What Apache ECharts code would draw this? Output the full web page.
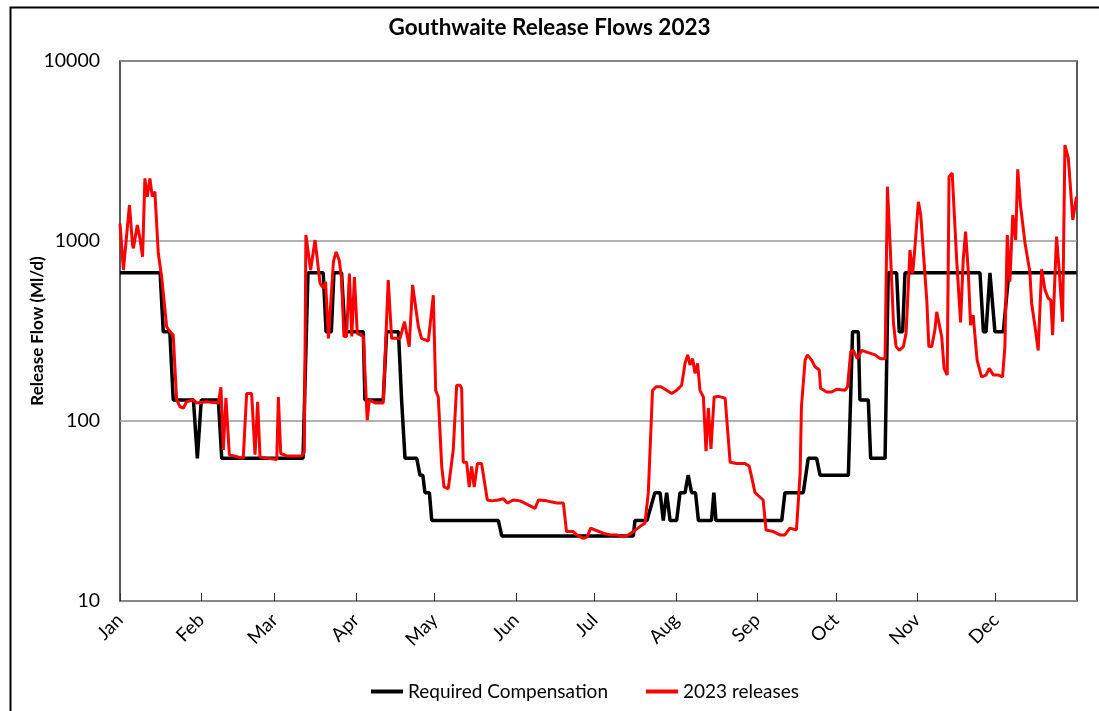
<!DOCTYPE html>
<html>
<head>
<meta charset="utf-8">
<script src="https://cdn.jsdelivr.net/npm/echarts@6/dist/echarts.min.js"></script>
<style>html,body{margin:0;padding:0;background:#fff}#c{width:1099px;height:711px}</style>
</head>
<body>
<div id="c"></div>
<script>
// Day-of-year ticks (0 = 1 Jan 2023) and month labels
const monthTicks = [0,31,59,90,120,151,181,212,243,273,304,334];
const monthLabels = ['Jan','Feb','Mar','Apr','May','Jun','Jul','Aug','Sep','Oct','Nov','Dec'];
const yTicks = [10, 100, 1000, 10000];

// Required Compensation [day, Ml/d]
const compensation = [
[0,666],[15.3,666],[16.5,313],[19,313],[20.3,131],[28,131],[29.5,62],[31,131],[37.5,131],[38.8,62],
[69.8,62],[71.7,666],[77.5,666],[78.6,313],[80.6,313],[81.6,666],[84.5,666],[85.8,313],[92.8,313],[93.4,131],
[100.4,131],[101.7,313],[106.2,313],[107.4,131],[108.7,62],[113.2,62],[114.4,50],[115.5,50],[116.3,40],[118,40],
[118.9,28],[144.3,28],[145.6,23],[195.8,23],[196.4,28],[201,28],[204,40],[206,40],[207.2,28],[207.8,28],
[208.5,40],[209,40],[209.8,28],[212.3,28],[213.6,40],[215.5,40],[216.7,50],[217.3,50],[218,40],[219.5,40],
[220.6,28],[225.6,28],[226.5,40],[227.3,28],[252.4,28],[253.6,40],[260.6,40],[262.5,62],[265.7,62],[267,50],
[277.8,50],[279.4,313],[281.6,313],[282.2,131],[285.4,131],[286.3,62],[291.8,62],[293,666],[296.2,666],[297.2,313],
[298.5,313],[299.4,666],[328,666],[329.3,313],[330.3,313],[331.8,666],[332.4,666],[333.7,313],[336.9,313],[339,666],
[364.8,666]
];

// 2023 releases [day, Ml/d]
const releases = [
[0,1250],[1.3,690],[3.6,1585],[4.8,950],[5.1,910],[6.6,1227],[7.6,1035],[8.6,818],[9.5,2228],[10.4,1763],
[11.4,2228],[12.3,1763],[13.3,1880],[14,1880],[14.6,855],[15.9,630],[16.5,630],[17.8,334],[19.1,313],[20.3,300],
[21.6,131],[22.9,120],[24.2,118],[25.4,128],[28,131],[29.2,126],[33,128],[37.5,126],[38.5,154],[39.4,69],
[40.4,134],[41.7,65],[47,62],[48.3,142],[50.2,142],[51.5,65],[52.5,128],[53.4,63],[59.8,61],[60.4,136],
[61.3,66],[63.6,64],[69.3,64],[70.3,67],[70.9,1079],[72.7,690],[74.4,1012],[76.3,582],[77.5,548],[78.4,593],
[79.5,288],[80,288],[81.4,767],[82.4,870],[83.6,785],[84.5,620],[85.4,295],[86.4,295],[87.5,660],[88.4,295],
[89.4,630],[90.5,307],[92.8,295],[94.3,101],[95.1,131],[97.3,126],[100.4,126],[102.3,607],[103.6,288],[106.8,288],
[108.5,356],[110.3,259],[111.6,570],[113.8,334],[115,288],[117.6,278],[119.5,500],[120.4,148],[121.4,136],[122.7,56],
[123.6,43],[125.2,42],[127.1,69],[128.4,158],[129.7,158],[130.3,152],[130.9,59],[132.2,59],[133.2,43],[134.1,56],
[135.1,43],[136.3,58],[137.9,58],[140.1,36.4],[141.8,36],[144.3,36.4],[146.2,37],[147.7,35],[150,36.4],[152.6,36],
[155.1,34.5],[158.3,32.7],[159.6,36.4],[162.7,36],[166.6,35],[169.1,35],[170.3,24.3],[172.9,24.3],[174.2,23.3],[176.7,22.3],
[178.2,22.7],[179.5,25.4],[181.2,24.8],[184.3,23.8],[186.9,23.3],[189.4,23.3],[192,22.7],[193.9,23.3],[195.8,24.3],[198.3,25.9],
[200.2,27],[201.5,40],[203.1,148],[204.5,155],[206.3,155],[208.5,148],[210.4,142],[212.3,148],[214.2,158],[215.5,209],
[216.5,233],[217.4,205],[218.4,222],[219.3,184],[220.3,209],[221.2,148],[222.5,136],[223.5,68],[224.4,118],[225.4,70],
[226.6,136],[228.2,137],[230.8,134],[232.7,59],[235.2,58],[238.4,58],[240,56],[242.2,40],[245.3,36.4],[246.4,24.8],
[249.2,24.3],[251.7,23.3],[253.6,23.3],[255.5,25.4],[258,24.8],[259.4,51],[259.9,120],[261.3,218],[262.2,233],[263.8,218],
[265.1,200],[266.7,192],[267.2,152],[269.5,145],[271.4,145],[273.3,150],[276.5,148],[277.5,155],[278.7,243],[279.7,247],
[281.2,222],[282.9,247],[285.4,240],[288,233],[289.9,222],[291.8,222],[292.7,2004],[293.7,970],[295,349],[296,259],
[297.2,247],[298.8,259],[299.8,307],[301.3,890],[302.3,660],[303,850],[304.5,1652],[305.4,1393],[307.7,470],[308.5,259],
[309.6,259],[310.8,320],[311.5,404],[313.4,294],[314.3,196],[315.5,180],[316.2,2275],[317.4,2388],[319.1,785],[320.6,353],
[321.6,785],[322.5,1127],[323.5,690],[324.4,341],[325.4,388],[326.9,218],[328.6,176],[330.3,180],[331.5,196],[333.1,180],
[335,180],[336.6,176],[337.5,259],[338.4,1079],[339.4,594],[340.5,1393],[341.6,1012],[342.4,2500],[343.5,1549],[345.2,970],
[347,676],[347.7,450],[349,334],[350.2,247],[351.5,697],[352.8,535],[354,481],[355,470],[355.7,300],[357.2,1057],
[358.2,690],[359.5,356],[360.4,3414],[361.7,2876],[363.4,1308],[364.8,1763]
];

const FONT = 'Lato, "Open Sans", sans-serif';
const chart = echarts.init(document.getElementById('c'), null, {renderer: 'canvas'});
chart.setOption({
  backgroundColor: '#fff',
  animation: false,
  textStyle: {fontFamily: FONT, color: '#000'},
  title: {
    text: 'Gouthwaite Release Flows 2023',
    left: 'center', top: 11,
    textStyle: {fontFamily: FONT, fontWeight: 'bold', fontSize: 22.5, color: '#000'}
  },
  graphic: [{
    type: 'rect', left: 8, top: 5, silent: true, z: -1,
    shape: {x: 0, y: 0, width: 1110, height: 720},
    style: {fill: 'none', stroke: '#000', lineWidth: 2}
  }],
  legend: {
    bottom: 5, left: 366,
    itemWidth: 32, itemHeight: 4, itemGap: 38,
    icon: 'rect',
    textStyle: {fontFamily: FONT, fontSize: 19, color: '#000'},
    data: ['Required Compensation', '2023 releases']
  },
  grid: {left: 120, right: 22, top: 61, bottom: 110, show: true, borderColor: '#222', borderWidth: 1.5},
  xAxis: {
    type: 'value', min: 0, max: 365,
    axisLine: {show: false},
    axisTick: {show: true, inside: true, length: 8, customValues: monthTicks, lineStyle: {color: '#333', width: 1}},
    axisLabel: {
      customValues: monthTicks, rotate: 45, fontSize: 19, color: '#000', margin: 16, fontFamily: FONT,
      formatter: v => monthLabels[monthTicks.indexOf(v)]
    },
    splitLine: {show: false}
  },
  yAxis: {
    type: 'log', logBase: 10, min: 10, max: 10000,
    name: 'Release Flow (Ml/d)', nameLocation: 'middle', nameGap: 74, nameMoveOverlap: false,
    nameTextStyle: {fontFamily: FONT, fontWeight: 'bold', fontSize: 17, color: '#000'},
    axisLine: {show: false},
    axisTick: {show: false},
    axisLabel: {fontSize: 19.5, color: '#000', margin: 20, fontFamily: FONT,
      customValues: yTicks, formatter: v => String(Math.round(v))},
    splitLine: {show: true, lineStyle: {color: '#999', width: 1.5}}
  },
  series: [
    {name: 'Required Compensation', type: 'line', data: compensation, symbol: 'none',
     lineStyle: {color: '#000', width: 3.5}, itemStyle: {color: '#000'}, z: 2},
    {name: '2023 releases', type: 'line', data: releases, symbol: 'none',
     lineStyle: {color: '#ff0000', width: 3}, itemStyle: {color: '#ff0000'}, z: 3}
  ]
});
</script>
</body>
</html>
